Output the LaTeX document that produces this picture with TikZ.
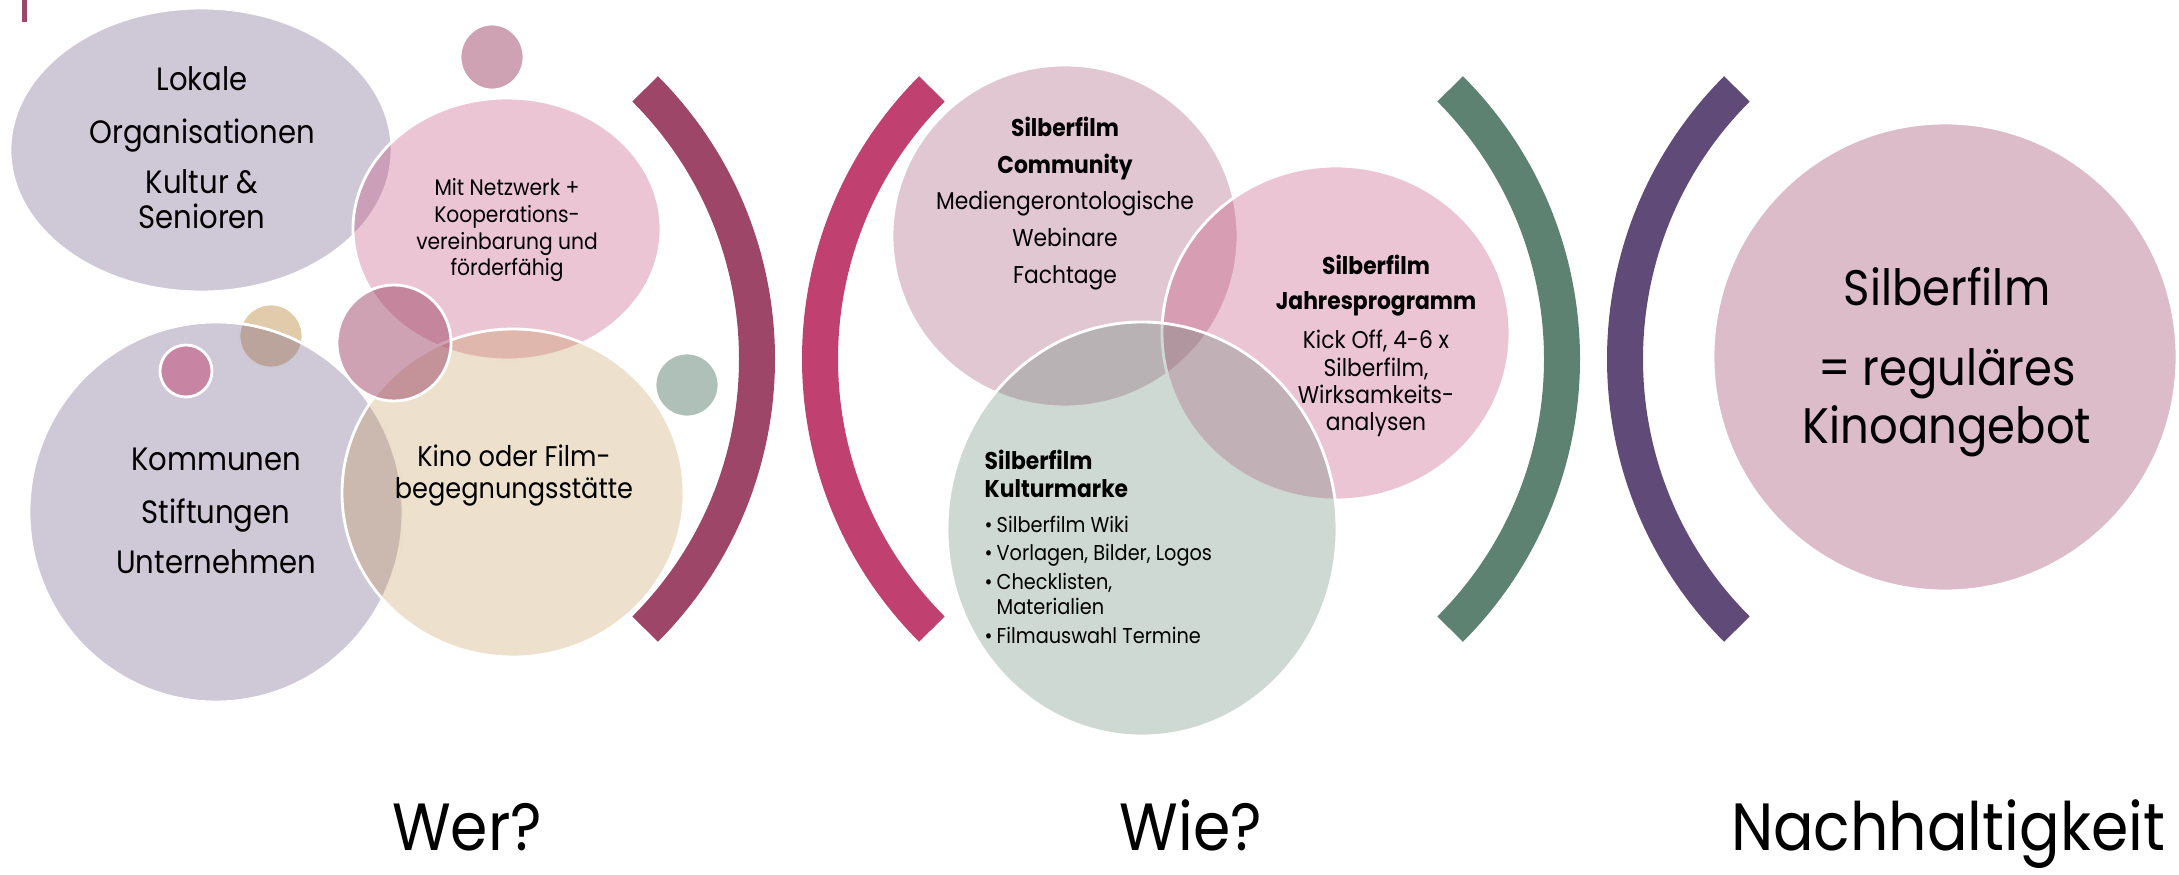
\documentclass[tikz,border=0pt]{standalone}
\usepackage{fontspec}
\setmainfont{Poppins}[FakeStretch=0.9]
\usetikzlibrary{calc}
\usetikzlibrary{math}
\usetikzlibrary{shapes.geometric}

\begin{document}
\begin{tikzpicture}
    \definecolor{mauve}{HTML}{9D4668}
    \definecolor{berry}{HTML}{C04070}
    \definecolor{sage}{HTML}{5E8272}
    \definecolor{plum}{HTML}{604A78}
    \definecolor{ochre}{HTML}{C39855}

    \tikzmath {
        \picW = 21.79;
        \picH = 8.74;
        \arcR = 3.82;
        \arcY = 5.15;
        \labelY = 0.24;
    }

    \tikzstyle{bubble}=[ellipse, inner sep=0pt, draw=white, line width=0.8pt]
    \tikzstyle{txt}=[inner sep=0pt, align=center, text=black]
    \tikzstyle{bracket}=[line width=0.36cm]
    \tikzstyle{question}=[txt, anchor=base, font=\fontsize{19}{22}\selectfont]

    \useasboundingbox (0,0) rectangle (\picW,\picH);
    \fill[mauve] (0.22,\picH) rectangle (0.27,\picH-0.22);

    % Wer?
    \coordinate (lokale_c) at (2.01, 7.24);
    \node[bubble, fill=plum, fill opacity=0.3, minimum width=3.82cm, minimum height=2.84cm] (lokale) at (lokale_c) {};

    \coordinate (dot_top_c) at (4.92, 8.17);
    \node[bubble, fill=mauve, fill opacity=0.5, minimum width=0.64cm, minimum height=0.66cm] (dot_top) at (dot_top_c) {};

    \coordinate (netzwerk_c) at (5.07, 6.45);
    \node[bubble, fill=berry, fill opacity=0.3, minimum width=3.08cm, minimum height=2.62cm] (netzwerk) at (netzwerk_c) {};

    \coordinate (dot_tan_c) at (2.71, 5.38);
    \node[bubble, fill=ochre, fill opacity=0.5, minimum size=0.64cm] (dot_tan) at (dot_tan_c) {};

    \coordinate (kommunen_c) at (2.16, 3.62);
    \node[bubble, fill=plum, fill opacity=0.3, minimum width=3.74cm, minimum height=3.80cm] (kommunen) at (kommunen_c) {};

    \coordinate (dot_berry_c) at (1.86, 5.03);
    \node[bubble, fill=berry, fill opacity=0.5, minimum size=0.52cm] (dot_berry) at (dot_berry_c) {};

    \coordinate (kino_c) at (5.13, 3.81);
    \node[bubble, fill=ochre, fill opacity=0.3, minimum width=3.42cm, minimum height=3.28cm] (kino) at (kino_c) {};

    \coordinate (dot_mid_c) at (3.94, 5.31);
    \node[bubble, fill=mauve, fill opacity=0.5, minimum width=1.14cm, minimum height=1.16cm] (dot_mid) at (dot_mid_c) {};

    \coordinate (dot_sage_c) at (6.87, 4.89);
    \node[bubble, fill=sage, fill opacity=0.5, minimum size=0.64cm] (dot_sage) at (dot_sage_c) {};

    % Wie?
    \coordinate (community_c) at (10.65, 6.38);
    \node[bubble, fill=mauve, fill opacity=0.3, minimum width=3.46cm, minimum height=3.42cm] (community) at (community_c) {};

    \coordinate (jahres_c) at (13.36, 5.41);
    \node[bubble, fill=berry, fill opacity=0.3, minimum width=3.48cm, minimum height=3.34cm] (jahres) at (jahres_c) {};

    \coordinate (marke_c) at (11.42, 3.45);
    \node[bubble, fill=sage, fill opacity=0.3, minimum width=3.90cm, minimum height=4.14cm] (marke) at (marke_c) {};

    % Nachhaltigkeit
    \coordinate (kinoangebot_c) at (19.45, 5.17);
    \node[bubble, fill=mauve, fill opacity=0.36, minimum width=4.64cm, minimum height=4.68cm] (kinoangebot) at (kinoangebot_c) {};

    % brackets
    \coordinate (arc1_c) at (3.75, \arcY);
    \coordinate (arc2_c) at (12.02, \arcY);
    \coordinate (arc3_c) at (11.80, \arcY);
    \coordinate (arc4_c) at (20.07, \arcY);
    \draw[bracket, mauve] ($(arc1_c) + (-45:\arcR)$) arc[start angle=-45, end angle=45, radius=\arcR];
    \draw[bracket, berry] ($(arc2_c) + (135:\arcR)$) arc[start angle=135, end angle=225, radius=\arcR];
    \draw[bracket, sage] ($(arc3_c) + (-45:\arcR)$) arc[start angle=-45, end angle=45, radius=\arcR];
    \draw[bracket, plum] ($(arc4_c) + (135:\arcR)$) arc[start angle=135, end angle=225, radius=\arcR];

    % texts
    \node[txt, anchor=north, font=\fontsize{9.2}{10}\selectfont] (lokale_txt) at ($(lokale) + (0.01, 0.84)$)
        {Lokale\\[5.1pt]Organisationen\\[4.2pt]Kultur \&\\Senioren};
    \node[txt, anchor=north, font=\fontsize{6.4}{7.6}\selectfont] (netzwerk_txt) at ($(netzwerk) + (0, 0.51)$)
        {Mit Netzwerk +\\Kooperations-\\vereinbarung und\\förderfähig};
    \node[txt, anchor=north, font=\fontsize{9.2}{10}\selectfont] (kommunen_txt) at ($(kommunen) + (0, 0.65)$)
        {Kommunen\\[5.1pt]Stiftungen\\[4.2pt]Unternehmen};
    \node[txt, anchor=north, font=\fontsize{8.1}{9.1}\selectfont] (kino_txt) at ($(kino) + (0.01, 0.49)$)
        {Kino oder Film-\\begegnungsstätte};

    \node[txt, anchor=north, font=\fontsize{6.9}{10.5}\selectfont] (community_txt) at ($(community) + (0, 1.20)$)
        {\bfseries Silberfilm\\\bfseries Community\\Mediengerontologische\\Webinare\\Fachtage};
    \node[txt, anchor=north, font=\fontsize{6.9}{7.7}\selectfont] (jahres_txt) at ($(jahres) + (0.40, 0.79)$)
        {\bfseries Silberfilm\\[2.5pt]\bfseries Jahresprogramm\\[3.4pt]Kick Off, 4-6 x\\Silberfilm,\\Wirksamkeits-\\analysen};
    \node[txt, anchor=north west, align=left, font=\fontsize{6.9}{8}\selectfont\bfseries] (marke_title) at ($(marke) + (-1.58, 0.80)$)
        {Silberfilm\\Kulturmarke};
    \node[txt, anchor=north west, align=left, font=\fontsize{6.1}{7}\selectfont] (marke_list) at ($(marke) + (-1.58, 0.14)$)
        {\makebox[0.12cm][l]{\textbullet}Silberfilm Wiki\\[1.2pt]
         \makebox[0.12cm][l]{\textbullet}Vorlagen, Bilder, Logos\\[1.2pt]
         \makebox[0.12cm][l]{\textbullet}Checklisten,\\
         \hspace*{0.12cm}Materialien\\[1.2pt]
         \makebox[0.12cm][l]{\textbullet}Filmauswahl Termine};

    \node[txt, anchor=north, font=\fontsize{14.2}{16.5}\selectfont] (kinoangebot_txt) at ($(kinoangebot) + (0.02, 0.90)$)
        {Silberfilm\\[6.3pt]= reguläres\\Kinoangebot};

    % labels
    \node[question] (wer) at (4.67, \labelY) {Wer?};
    \node[question] (wie) at (11.91, \labelY) {Wie?};
    \node[question] (nachhaltig) at (19.48, \labelY) {Nachhaltigkeit};
\end{tikzpicture}
\end{document}
